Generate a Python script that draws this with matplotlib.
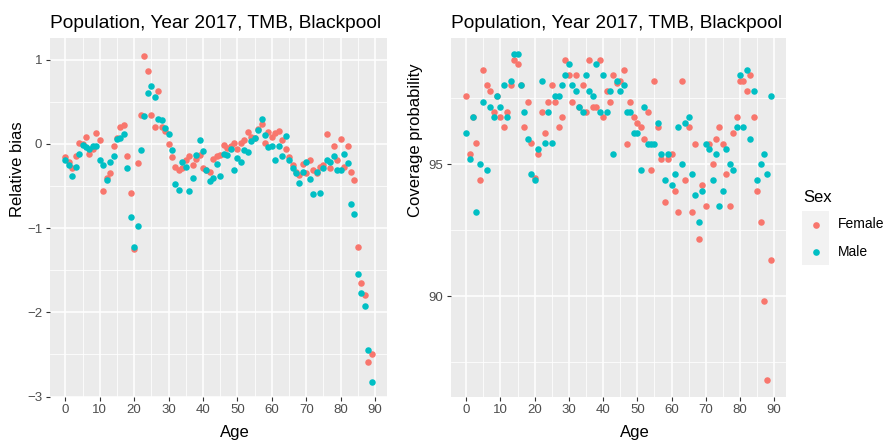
import matplotlib
matplotlib.use("Agg")
import matplotlib.pyplot as plt
import numpy as np
from matplotlib.patches import Rectangle
from matplotlib.lines import Line2D

plt.rcParams['font.family'] = ['Liberation Sans', 'DejaVu Sans']

ages = list(range(0, 90))

bias_female = [-0.16, -0.22, -0.29, -0.15, 0.01, 0.00, 0.08, -0.12, -0.06, 0.13,
               0.04, -0.56, -0.40, -0.35, -0.03, 0.07, 0.20, 0.22, -0.15, -0.58,
               -1.25, -0.23, 0.34, 1.04, 0.87, 0.34, 0.20, 0.63, 0.20, 0.15,
               0.00, -0.16, -0.28, -0.31, -0.29, -0.19, -0.15, -0.25, -0.18, -0.13,
               -0.29, -0.31, -0.33, -0.18, -0.15, -0.13, -0.01, -0.05, -0.03, 0.01,
               -0.06, 0.01, 0.05, 0.14, 0.08, 0.07, 0.18, 0.23, 0.01, 0.14,
               0.08, 0.13, 0.15, 0.04, -0.06, -0.16, -0.25, -0.33, -0.37, -0.24,
               -0.35, -0.19, -0.31, -0.35, -0.27, -0.25, 0.12, -0.29, -0.03, -0.19,
               0.06, -0.27, -0.03, -0.33, -0.43, -1.22, -1.65, -1.80, -2.59, -2.50]

bias_male = [-0.19, -0.25, -0.38, -0.28, -0.12, -0.01, -0.04, -0.06, -0.03, -0.02,
             -0.19, -0.25, -0.43, -0.21, -0.15, 0.06, 0.07, 0.12, -0.29, -0.87,
             -1.23, -0.97, -0.07, 0.33, 0.60, 0.69, 0.56, 0.30, 0.28, 0.19,
             0.12, -0.07, -0.48, -0.55, -0.21, -0.28, -0.56, -0.40, -0.13, 0.05,
             -0.09, -0.31, -0.44, -0.40, -0.24, -0.38, -0.12, -0.13, -0.06, -0.31,
             -0.17, -0.21, -0.07, -0.10, 0.03, 0.07, 0.17, 0.30, 0.11, -0.04,
             -0.02, -0.19, -0.03, -0.15, 0.09, -0.19, -0.29, -0.35, -0.47, -0.34,
             -0.21, -0.42, -0.59, -0.34, -0.58, -0.29, -0.19, -0.21, -0.15, -0.31,
             -0.31, -0.12, -0.23, -0.72, -0.83, -1.54, -1.77, -1.92, -2.45, -2.83]

cover_female = [97.59, 95.41, 96.81, 95.80, 94.39, 98.57, 98.00, 97.78, 97.00, 97.59,
                96.81, 96.42, 97.00, 98.00, 98.96, 98.80, 98.00, 96.42, 97.38, 95.80,
                94.50, 95.41, 97.00, 96.20, 97.38, 98.00, 97.38, 96.42, 96.81, 98.96,
                98.39, 97.38, 98.39, 97.19, 98.00, 97.00, 98.96, 97.19, 97.19, 98.96,
                96.81, 97.78, 97.38, 98.39, 98.10, 98.16, 98.57, 95.78, 97.38, 96.81,
                96.58, 96.42, 95.97, 97.00, 94.78, 98.16, 96.42, 95.19, 93.58, 95.19,
                95.41, 93.99, 93.20, 98.16, 94.39, 96.42, 93.20, 95.78, 92.18, 94.22,
                93.42, 95.78, 95.00, 95.97, 96.42, 95.78, 94.62, 93.42, 96.20, 96.81,
                98.16, 98.16, 97.78, 98.39, 96.81, 93.99, 92.81, 89.81, 86.81, 91.39]

cover_male = [96.18, 95.19, 96.81, 93.19, 95.00, 97.38, 94.78, 97.19, 96.81, 97.59,
              97.19, 98.00, 96.81, 98.16, 99.18, 99.18, 98.00, 97.00, 95.97, 94.62,
              94.39, 95.57, 98.16, 95.80, 97.00, 95.80, 97.59, 97.59, 98.00, 98.39,
              98.80, 98.00, 97.78, 97.19, 97.00, 98.39, 97.78, 97.59, 98.80, 97.00,
              98.39, 97.00, 97.78, 95.41, 98.16, 97.78, 98.00, 96.99, 96.99, 96.20,
              96.20, 94.78, 97.19, 95.78, 95.78, 95.78, 96.58, 95.41, 94.39, 95.41,
              94.22, 94.62, 96.42, 95.00, 96.58, 96.81, 94.62, 93.82, 92.81, 93.99,
              95.78, 95.57, 94.39, 95.41, 93.42, 93.99, 95.57, 95.00, 94.78, 96.42,
              98.39, 96.42, 98.57, 95.97, 97.78, 94.39, 95.00, 95.41, 94.62, 97.59]

sex_labels = ["Female", "Male"]
sex_colors = ["#F8766D", "#00BFC4"]
title_text = "Population, Year 2017, TMB, Blackpool"

W, H = 888, 443
fig = plt.figure(figsize=(W / 100, H / 100), dpi=100)

def fx(px):
    return px / W

def fy(py):
    return 1 - py / H

def style_axes(ax, yticks, yminor):
    ax.set_facecolor("#EBEBEB")
    for s in ax.spines.values():
        s.set_visible(False)
    ax.set_xticks(np.arange(0, 91, 10))
    ax.set_xticks(np.arange(5, 91, 10), minor=True)
    ax.set_yticks(yticks)
    ax.set_yticks(yminor, minor=True)
    ax.grid(which="major", color="white", linewidth=1.1)
    ax.grid(which="minor", color="white", linewidth=0.55)
    ax.set_axisbelow(True)
    ax.tick_params(which="major", length=3, width=0.8, color="#333333",
                   labelcolor="#4D4D4D", labelsize=9.5, pad=2.5)
    ax.tick_params(which="minor", length=0)
    ax.set_xlim(-4.45, 93.45)

top_px, bot_px = 37.7, 396.5
bottom = fy(bot_px)
height = fy(top_px) - fy(bot_px)
mid_y = (top_px + bot_px) / 2

panels = [
    (50, 387, bias_female, bias_male, [-3, -2, -1, 0, 1], [-2.5, -1.5, -0.5, 0.5],
     (-3.0, 1.26), "Relative bias", 17.5),
    (451, 786, cover_female, cover_male, [90, 95], [87.5, 92.5, 97.5],
     (86.2, 99.8), "Coverage probability", 415.5),
]

for left_px, right_px, yf, ym, yt, ymin, ylim, ylab, ylab_x in panels:
    ax = fig.add_axes([fx(left_px), bottom, fx(right_px) - fx(left_px), height])
    style_axes(ax, yt, ymin)
    ax.set_ylim(*ylim)
    ax.scatter(ages, yf, s=22, color=sex_colors[0], linewidths=0, zorder=3)
    ax.scatter(ages, ym, s=22, color=sex_colors[1], linewidths=0, zorder=3)
    ax.set_title(title_text, loc="left", fontsize=13.8, pad=7)
    mid_x = (left_px + right_px) / 2
    fig.text(fx(mid_x + 1), fy(437), "Age", fontsize=12, ha="left", va="baseline")
    fig.text(fx(ylab_x), fy(mid_y), ylab, fontsize=12, rotation=90,
             rotation_mode="anchor", ha="left", va="center")

# legend
fig.text(fx(803), fy(198), "Sex", fontsize=12, va="center", ha="left")
key_top = 211
key_h = 27
for i, (lab, col) in enumerate(zip(sex_labels, sex_colors)):
    y0 = key_top + i * key_h
    fig.patches.append(Rectangle((fx(802), fy(y0 + key_h)), fx(829) - fx(802),
                                 fy(y0) - fy(y0 + key_h), transform=fig.transFigure,
                                 facecolor="#F2F2F2", edgecolor="none"))
    cy = y0 + key_h / 2
    fig.lines.append(Line2D([fx(816)], [fy(cy)], marker="o", markersize=4.8,
                            color=col, markeredgewidth=0, transform=fig.transFigure))
    fig.text(fx(838), fy(cy), lab, fontsize=10, va="center", ha="left", color="black")

fig.savefig("out.png", dpi=100)
